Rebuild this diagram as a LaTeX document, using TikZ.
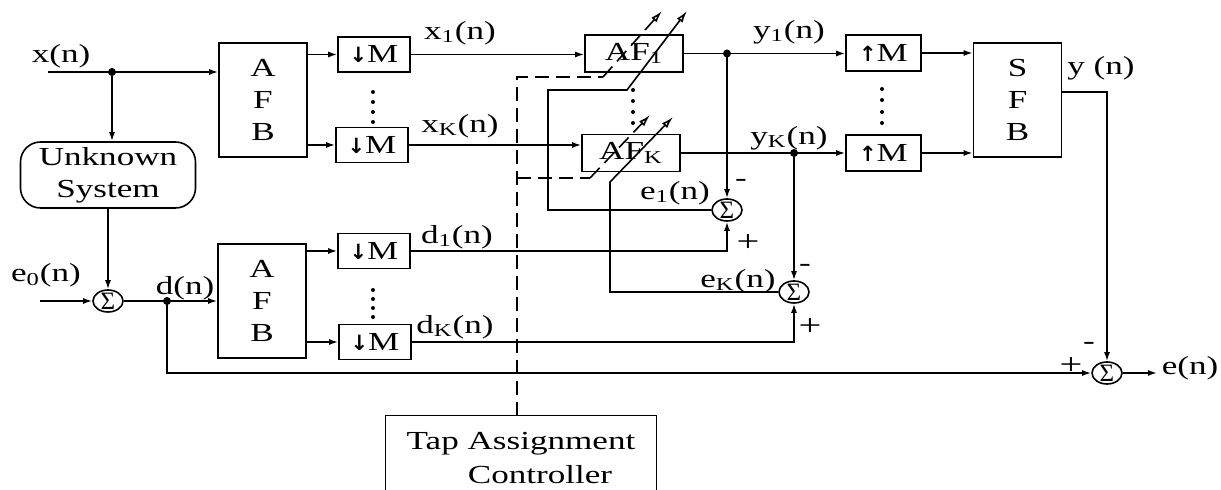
\documentclass[tikz,border=0pt]{standalone}
\usepackage{fontspec}
\setmainfont[FakeStretch=1.35]{Liberation Serif}
\newfontfamily\arrfont{DejaVu Sans}
\newfontfamily\sigfont{Liberation Serif}
\usetikzlibrary{arrows.meta,shapes.geometric,calc}
\newcommand\fs{\fontsize{13}{16}\selectfont}
\newcommand\dn{{\arrfont\bfseries\fontsize{10.5}{10}\selectfont ↓}M}
\newcommand\up{{\arrfont\bfseries\fontsize{10.5}{10}\selectfont ↑}M}
\begin{document}
\begin{tikzpicture}[x=0.5pt,y=-0.5pt,
  box/.style={draw, line width=0.8pt, inner sep=0pt, font=\fs},
  bank/.style={box, minimum width=44pt, minimum height=57pt, align=center},
  decbox/.style={box, minimum width=36pt, minimum height=17.5pt},
  afbox/.style={box, minimum width=49pt, minimum height=18.5pt},
  sumnode/.style={ellipse, draw, line width=0.8pt, minimum width=15pt, minimum height=11pt, inner sep=-1.5pt, font=\sigfont\fontsize{12.5}{12.5}\selectfont},
  lbl/.style={inner sep=0pt, font=\fs},
  sgn/.style={inner sep=0pt, font=\fontsize{15}{15}\selectfont},
  wire/.style={line width=0.8pt},
  sig/.style={line width=0.8pt, -{Latex[length=4.5pt,width=3pt]}},
  adapt/.style={line width=0.8pt, -{Latex[open,length=6pt,width=3.5pt]}},
  ctrl/.style={line width=0.8pt, dash pattern=on 7pt off 3.5pt},
  jdot/.style={circle, fill, inner sep=0pt, minimum size=4pt}
]
\useasboundingbox (0,0) rectangle (1221,490);

% blocks
\node[bank] (afb1) at (263,100) {A\\F\\B};
\node[bank] (afb2) at (262,301) {A\\F\\B};
\node[bank] (sfb) at (1017.5,100) {S\\F\\B};
\node[decbox] (m1) at (374,54.5) {\dn};
\node[decbox] (m2) at (372,145) {\dn};
\node[decbox] (m3) at (374,251) {\dn};
\node[decbox] (m4) at (375,342) {\dn};
\node[afbox] (af1) at (634,53.5) {AF\textsubscript{1}};
\node[afbox] (afk) at (631,153) {AF\textsubscript{K}};
\node[box, minimum width=37.5pt, minimum height=18pt] (um1) at (883.5,53) {\up};
\node[box, minimum width=37.5pt, minimum height=18pt] (um2) at (883.5,153) {\up};
\node[box, rounded corners=10pt, minimum width=87.5pt, minimum height=33pt, align=center] (unk) at (108,175) {Unknown\\System};
\node[lbl, align=center, minimum width=135pt, minimum height=42pt] (tap) at (521,458) {Tap Assignment\\[1pt]\hspace*{19pt}Controller};
\draw[wire] (tap.south west) -- (tap.north west) -- (tap.north east) -- (tap.south east);

% summers
\node[sumnode] (sd) at (108,301) {Σ};
\node[sumnode] (se1) at (727,210) {Σ};
\node[sumnode] (seK) at (794,292) {Σ};
\node[sumnode] (se) at (1107,373) {Σ};

% coordinates
\coordinate (xin) at (48,72);
\coordinate (jx) at (112,72);
\coordinate (e0in) at (40,301);
\coordinate (jd) at (167,301);
\coordinate (j1) at (af1.east -| se1.north);
\coordinate (jK) at (afk.east -| seK.north);
\coordinate (yo) at (1062,92);
\coordinate (eout) at (1157,373);
\coordinate (a1) at (548,90);
\coordinate (a2) at (627,90);
\coordinate (a3) at (687,11);
\coordinate (b1) at (610,182);
\coordinate (b2) at (673,117);
\coordinate (dtop) at (517,77);
\coordinate (dtopr) at (603,77);
\coordinate (dtopa) at (662,11);
\coordinate (dmid) at (517,178);
\coordinate (dmidr) at (590,178);
\coordinate (dmida) at (650,115);

% input side
\draw[sig] (xin) -- (xin -| afb1.west);
\draw[sig] (jx) -- (jx |- unk.north);
\draw[sig] (unk.south -| sd.north) -- (sd.north);
\draw[sig] (e0in) -- (sd.west);
\draw[sig] (sd.east) -- (afb2.west);
\draw[sig] (jd) |- (se.west);

% analysis banks to decimators
\foreach \m in {m1,m2}{\draw[sig] (\m.west -| afb1.east) -- (\m.west);}
\foreach \m in {m3,m4}{\draw[sig] (\m.west -| afb2.east) -- (\m.west);}

% to adaptive filters
\draw[sig] (m1.east) -- (m1.east -| af1.west);
\draw[sig] (m2.east) -- (m2.east -| afk.west);
\draw[sig] (af1.east) -- (af1.east -| um1.west);
\draw[sig] (afk.east) -- (afk.east -| um2.west);
\draw[sig] (um1.east) -- (um1.east -| sfb.west);
\draw[sig] (um2.east) -- (um2.east -| sfb.west);

% error summers
\draw[sig] (j1) -- (se1.north);
\draw[sig] (jK) -- (seK.north);
\draw[sig] (m3.east) -| (se1.south);
\draw[sig] (m4.east) -| (seK.south);
\draw[adapt] (se1.west) -| (a1) -- (a2) -- (a3);
\draw[adapt] (seK.west) -| (b1) -- (b2);

% output
\draw[sig] (yo) -| (se.north);
\draw[sig] (se.east) -- (eout);

% tap assignment control (dashed)
\draw[ctrl] (tap.north -| dtop) -- (dtop) -- (dtopr);
\draw[ctrl, -{Latex[open,length=6pt,width=3.5pt]}] (dtopr) -- (dtopa);
\draw[ctrl] (dmid) -- (dmidr);
\draw[ctrl, -{Latex[open,length=6pt,width=3.5pt]}] (dmidr) -- (dmida);

% junction dots
\node[jdot] (dx) at (jx) {};
\node[jdot] (dd) at (jd) {};
\node[jdot] (dj1) at (j1) {};
\node[jdot] (djK) at (jK) {};

% vertical ellipsis dots
\foreach \yy in {92,102,112,122} \fill (373,\yy) circle (1pt);
\foreach \yy in {290,299,308,317} \fill (373,\yy) circle (1pt);
\foreach \yy in {89,100,112,123} \fill (882,\yy) circle (1pt);
\foreach \yy in {90,101,112,123} \fill (633,\yy) circle (1pt);

% labels
\node[lbl] (lx) at (61,56) {x(n)};
\node[lbl] (lx1) at (460,33) {x\textsubscript{1}(n)};
\node[lbl] (lxk) at (460,126) {x\textsubscript{K}(n)};
\node[lbl] (ly1) at (789,32) {y\textsubscript{1}(n)};
\node[lbl] (lyk) at (789,138) {y\textsubscript{K}(n)};
\node[lbl] (ly) at (1101,68) {y (n)};
\node[lbl] (le1) at (675,193) {e\textsubscript{1}(n)};
\node[lbl] (lek) at (738,281) {e\textsubscript{K}(n)};
\node[lbl] (ld1) at (457,237) {d\textsubscript{1}(n)};
\node[lbl] (ldk) at (455,327) {d\textsubscript{K}(n)};
\node[lbl] (ld) at (185,288) {d(n)};
\node[lbl] (le0) at (46,275) {e\textsubscript{0}(n)};
\node[lbl] (le) at (1190,368) {e(n)};
\node[lbl] (m1a) at (741,183) {-};
\node[sgn] (p1a) at (748,243) {+};
\node[lbl] (m2a) at (805,268) {-};
\node[sgn] (p2a) at (810,327) {+};
\node[sgn] (p3a) at (1071,366) {+};
\node[lbl] (m3a) at (1089,346) {-};
\end{tikzpicture}
\end{document}
